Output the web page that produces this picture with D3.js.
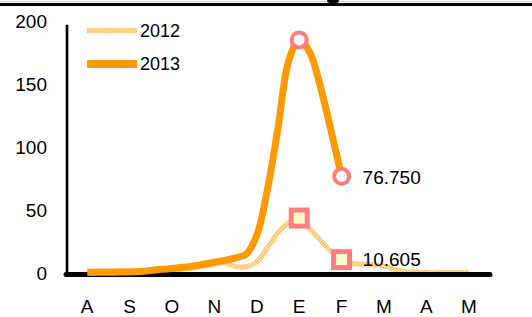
<!DOCTYPE html>
<html>
<head>
<meta charset="utf-8">
<script src="https://cdnjs.cloudflare.com/ajax/libs/d3/7.8.5/d3.min.js"></script>
<style>
  body { margin: 0; background: #fff; }
  svg { display: block; font-family: 'Liberation Sans', Arial, sans-serif; }
</style>
</head>
<body>
<div id="chart"></div>
<script>
(function(d3) {
    'use strict';

    // months, Aug .. May
    var months = ['A', 'S', 'O', 'N', 'D', 'E', 'F', 'M', 'A', 'M'];
    var yTicks = [0, 50, 100, 150, 200];

    // weekly values, 4 steps per month, starting at first month
    var cases2012 = [1.5, 1.5, 1.5, 1.5, 1.5, 1.0, 0, 0,
                     1.5, 3, 4, 5.5, 7, 8, 5, 5,
                     9, 20, 32, 40, 43.6, 35, 26, 17,
                     10.605, 7.5, 7, 6.5, 5.5, 3, 1.2, 0.5,
                     0.3, 0.3, 0.3, 0.3, 0.3];
    var cases2013 = [0.5, 0.5, 0.6, 0.7, 0.8, 1.2, 2, 3,
                     3.5, 4.5, 5.5, 7, 8.5, 10, 12, 15,
                     30, 66, 115, 168, 185, 175, 148, 113,
                     76.75];
    var markedMonths = [5, 6];

    var width = 532;
    var height = 317;
    var left = 66, right = 490, top = 21, bottom = 273;

    var svg = d3.select('#chart')
      .append('svg')
      .attr('width', width)
      .attr('height', height);

    var defs = svg.append('defs');
    var pat = defs.append('pattern')
      .attr('id', 'dots')
      .attr('patternUnits', 'userSpaceOnUse')
      .attr('width', 3)
      .attr('height', 3);
    pat.append('rect').attr('width', 3).attr('height', 3).attr('fill', '#ffc46a');
    pat.append('rect').attr('x', 0).attr('y', 0).attr('width', 1).attr('height', 1).attr('fill', '#ffe9c4');
    pat.append('rect').attr('x', 2).attr('y', 1).attr('width', 1).attr('height', 1).attr('fill', '#ffe9c4');
    pat.append('rect').attr('x', 1).attr('y', 2).attr('width', 1).attr('height', 1).attr('fill', '#ffe9c4');

    var xBand = d3.scaleBand()
      .domain(d3.range(months.length))
      .range([left, right]);

    var x = d3.scaleLinear()
      .domain([0, months.length - 1])
      .range([xBand(0) + xBand.bandwidth() / 2,
              xBand(months.length - 1) + xBand.bandwidth() / 2]);

    var y = d3.scaleLinear()
      .domain([0, 200])
      .range([bottom, top]);

    // cropped title strip at the very top
    svg.append('line')
      .attr('x1', 0).attr('x2', width)
      .attr('y1', 1.5).attr('y2', 1.5)
      .attr('stroke', '#ccc').attr('stroke-width', 1);
    svg.append('line')
      .attr('x1', 0).attr('x2', width)
      .attr('y1', 4.5).attr('y2', 4.5)
      .attr('stroke', '#000').attr('stroke-width', 3);
    svg.append('ellipse')
      .attr('cx', 333).attr('cy', 1)
      .attr('rx', 6).attr('ry', 2.5)
      .attr('fill', '#000');

    // y axis
    var yAxis = d3.axisLeft(y)
      .tickValues(yTicks)
      .tickSize(0)
      .tickPadding(20);

    var gy = svg.append('g')
      .attr('transform', 'translate(' + (left + 1) + ',0)')
      .call(yAxis);
    gy.select('.domain').remove();
    gy.selectAll('text')
      .attr('font-size', 19)
      .attr('font-family', 'Liberation Sans, Arial, sans-serif')
      .attr('fill', '#000');

    svg.append('line')
      .attr('x1', left + 1).attr('x2', left + 1)
      .attr('y1', y(197)).attr('y2', bottom + 2)
      .attr('stroke', '#000').attr('stroke-width', 2.7);

    // x axis
    var xAxis = d3.axisBottom(xBand)
      .tickSize(0)
      .tickPadding(27)
      .tickFormat(function(i) { return months[i]; });

    var gx = svg.append('g')
      .attr('transform', 'translate(0,' + bottom + ')')
      .call(xAxis);
    gx.select('.domain').remove();
    gx.selectAll('text')
      .attr('font-size', 19)
      .attr('font-family', 'Liberation Sans, Arial, sans-serif')
      .attr('fill', '#000');

    var line = d3.line()
      .x(function(d, i) { return x(i / 4); })
      .y(function(d) { return y(d); })
      .curve(d3.curveCatmullRom.alpha(0.5));

    svg.append('path')
      .datum(cases2012)
      .attr('d', line)
      .attr('fill', 'none')
      .attr('stroke', 'url(#dots)')
      .attr('stroke-width', 5)
      .attr('stroke-linejoin', 'round');

    svg.append('line')
      .attr('x1', left).attr('x2', right)
      .attr('y1', bottom + 1.5).attr('y2', bottom + 1.5)
      .attr('stroke', '#000').attr('stroke-width', 5)
      .attr('stroke-linecap', 'round');

    svg.append('path')
      .datum(cases2013)
      .attr('d', line)
      .attr('fill', 'none')
      .attr('stroke', '#ff9900')
      .attr('stroke-width', 7)
      .attr('stroke-linejoin', 'round');

    // markers
    svg.selectAll('.sq')
      .data(markedMonths)
      .enter()
      .append('rect')
      .attr('class', 'sq')
      .attr('x', function(m) { return x(m) - 8; })
      .attr('y', function(m) { return y(cases2012[m * 4]) - 8; })
      .attr('width', 16)
      .attr('height', 16)
      .attr('fill', '#ffffcc')
      .attr('stroke', '#ff7c80')
      .attr('stroke-width', 5);

    svg.selectAll('.ci')
      .data(markedMonths)
      .enter()
      .append('circle')
      .attr('class', 'ci')
      .attr('cx', function(m) { return x(m); })
      .attr('cy', function(m) { return y(cases2013[m * 4]); })
      .attr('r', 7.5)
      .attr('fill', '#fff')
      .attr('stroke', '#ff7c80')
      .attr('stroke-width', 4);

    // end value labels
    var lastMonth = markedMonths[markedMonths.length - 1];
    svg.append('text')
      .attr('x', x(lastMonth) + 21)
      .attr('y', y(cases2013[lastMonth * 4]) + 8)
      .attr('font-size', 19)
      .text(d3.format('.3f')(cases2013[lastMonth * 4]));

    svg.append('text')
      .attr('x', x(lastMonth) + 21)
      .attr('y', y(cases2012[lastMonth * 4]) + 6)
      .attr('font-size', 19)
      .text(d3.format('.3f')(cases2012[lastMonth * 4]));

    // legend
    var legend = svg.append('g').attr('transform', 'translate(87,0)');
    legend.append('line')
      .attr('x1', 0).attr('x2', 50)
      .attr('y1', 30.5).attr('y2', 30.5)
      .attr('stroke', 'url(#dots)').attr('stroke-width', 5);
    legend.append('text')
      .attr('x', 53).attr('y', 37)
      .attr('font-size', 18)
      .text('2012');
    legend.append('line')
      .attr('x1', 0).attr('x2', 50)
      .attr('y1', 64).attr('y2', 64)
      .attr('stroke', '#ff9900').attr('stroke-width', 8);
    legend.append('text')
      .attr('x', 53).attr('y', 70)
      .attr('font-size', 18)
      .text('2013');

})(window.d3);
</script>
</body>
</html>
